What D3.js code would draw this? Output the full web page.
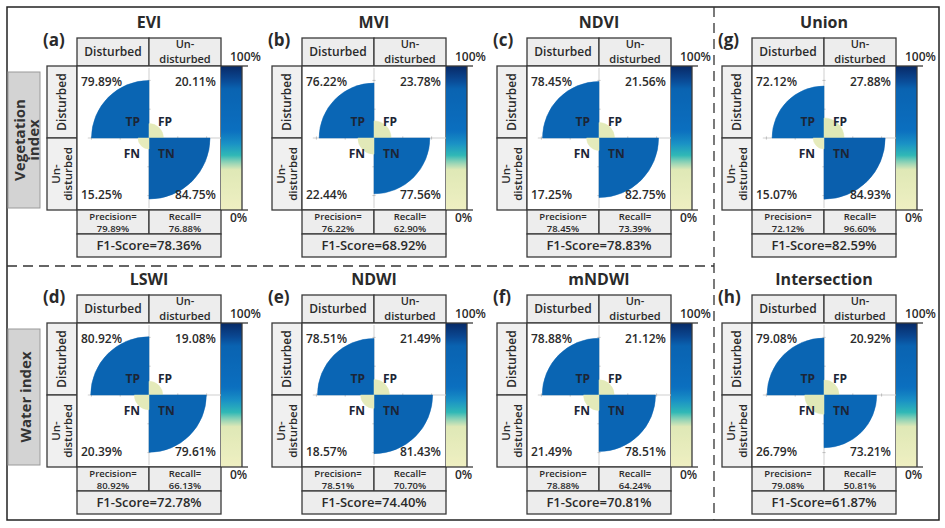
<!DOCTYPE html>
<html>
<head>
<meta charset="utf-8">
<script src="https://cdn.jsdelivr.net/npm/d3@7"></script>
<style>
  html, body { margin: 0; padding: 0; background: #fff; }
  svg text { font-family: "Open Sans", "DejaVu Sans", sans-serif; fill: #2a2a2a; }
</style>
</head>
<body>
<div id="chart"></div>
<script>
// Confusion matrix results per index (values in %)
const names = ['EVI', 'MVI', 'NDVI', 'LSWI', 'NDWI', 'mNDWI', 'Union', 'Intersection'];
const letters = ['(a)', '(b)', '(c)', '(d)', '(e)', '(f)', '(g)', '(h)'];
const tp = [79.89, 76.22, 78.45, 80.92, 78.51, 78.88, 72.12, 79.08];
const fp = [20.11, 23.78, 21.56, 19.08, 21.49, 21.12, 27.88, 20.92];
const fn = [15.25, 22.44, 17.25, 20.39, 18.57, 21.49, 15.07, 26.79];
const tn = [84.75, 77.56, 82.75, 79.61, 81.43, 78.51, 84.93, 73.21];
const precision = [79.89, 76.22, 78.45, 80.92, 78.51, 78.88, 72.12, 79.08];
const recall = [76.88, 62.90, 73.39, 66.13, 70.70, 64.24, 96.60, 50.81];
const f1 = [78.36, 68.92, 78.83, 72.78, 74.40, 70.81, 82.59, 61.87];
const rowLabels = [['Vegetation', 'index'], ['Water index']];

// colour map stops (0-100%)
const cmapStops = [0, 28, 33, 38, 46, 55, 84, 91, 100];
const cmapColors = ['#efefc2', '#dfe8b6', '#92d3b6', '#30b8b6', '#1a92c5', '#0b6fbf', '#0a63b1', '#0a4690', '#082a66'];

const width = 945, height = 528;
const S = 144;            // plot square
const R = S / 2;
const headH = 28, precH = 24, f1H = 23;

const svg = d3.select('#chart').append('svg')
  .attr('width', width)
  .attr('height', height);

const color = d3.scaleLinear().domain(cmapStops).range(cmapColors).clamp(true);
const rScale = d3.scaleLinear().domain([0, 100]).range([0, R]);

// gradient for colour bars
const grad = svg.append('defs').append('linearGradient')
  .attr('id', 'cbar')
  .attr('x1', '0%').attr('y1', '100%')
  .attr('x2', '0%').attr('y2', '0%');
d3.range(0, 101, 2).forEach(v => {
  grad.append('stop').attr('offset', v + '%').attr('stop-color', color(v));
});

// outer frame + separators
svg.append('rect')
  .attr('x', 7).attr('y', 7)
  .attr('width', 932).attr('height', 513)
  .attr('fill', 'none')
  .attr('stroke', '#222')
  .attr('stroke-width', 1.5);

svg.append('line')
  .attr('x1', 7).attr('x2', 714)
  .attr('y1', 266).attr('y2', 266)
  .attr('stroke', '#333').attr('stroke-width', 1.3)
  .attr('stroke-dasharray', '10,6');

svg.append('line')
  .attr('x1', 714).attr('x2', 714)
  .attr('y1', 7).attr('y2', 520)
  .attr('stroke', '#333').attr('stroke-width', 1.3)
  .attr('stroke-dasharray', '10,6');

// row labels on the left
rowLabels.forEach((lines, row) => {
  const top = 72 + row * 257;
  svg.append('rect')
    .attr('x', 8).attr('y', top)
    .attr('width', 32).attr('height', 136)
    .attr('fill', '#d3d3d3')
    .attr('stroke', '#9a9a9a')
    .attr('stroke-width', 1);

  const cy = top + 68;
  const t = svg.append('text')
    .attr('transform', `translate(${lines.length === 1 ? 31 : 25},${cy}) rotate(-90)`)
    .attr('text-anchor', 'middle')
    .attr('font-size', '15px')
    .style('font-weight', 700)
    .style('fill', '#333');
  lines.forEach((l, k) => {
    t.append('tspan').attr('x', 0).attr('dy', k === 0 ? 0 : 14).text(l);
  });
});

const arc = d3.arc().innerRadius(0);
const fmt = v => v.toFixed(2) + '%';

function cell(g, x, y, w, h, fill) {
  g.append('rect')
    .attr('x', x).attr('y', y)
    .attr('width', w).attr('height', h)
    .attr('fill', fill)
    .attr('stroke', '#3a3a3a')
    .attr('stroke-width', 1.3);
}

// two-line label as one text element
function twoLine(g, transform, l1, l2, gap, size) {
  const t = g.append('text')
    .attr('transform', transform)
    .attr('text-anchor', 'middle')
    .attr('font-size', size)
    .style('font-weight', 600);
  t.append('tspan').attr('x', 0).attr('dy', 0).text(l1);
  t.append('tspan').attr('x', 0).attr('dy', gap).text(l2);
  return t;
}

names.forEach((name, i) => {
  const col = i < 6 ? i % 3 : 3;
  const row = i < 6 ? Math.floor(i / 3) : i - 6;
  const x0 = 77 + col * 225;
  const y0 = 38 + row * 257;
  const pTop = y0 + headH;
  const pBot = pTop + S;
  const cx = x0 + R, cy = pTop + R;

  const g = svg.append('g');

  // title + letter
  g.append('text')
    .attr('x', cx).attr('y', y0 - 10)
    .attr('text-anchor', 'middle')
    .attr('font-size', '16px')
    .style('font-weight', 700)
    .text(name);

  g.append('text')
    .attr('x', x0 - 34).attr('y', y0 + 8)
    .attr('font-size', '17px')
    .style('font-weight', 700)
    .text(letters[i]);

  // column header
  cell(g, x0, y0, R, headH, '#ededed');
  cell(g, x0 + R, y0, R, headH, '#ededed');
  g.append('text')
    .attr('x', x0 + R / 2).attr('y', y0 + 18)
    .attr('text-anchor', 'middle')
    .attr('font-size', '12px')
    .style('font-weight', 600)
    .text('Disturbed');
  twoLine(g, `translate(${x0 + R * 1.5},${y0 + 10})`, 'Un-', 'disturbed', 14.6, '11px');

  // row header
  cell(g, x0 - 30, pTop, 30, R, '#f0f0f0');
  cell(g, x0 - 30, cy, 30, R, '#f0f0f0');
  g.append('text')
    .attr('transform', `translate(${x0 - 11},${pTop + R / 2}) rotate(-90)`)
    .attr('text-anchor', 'middle')
    .attr('font-size', '12px')
    .style('font-weight', 600)
    .text('Disturbed');
  twoLine(g, `translate(${x0 - 17},${cy + R / 2}) rotate(-90)`, 'Un-', 'disturbed', 12, '11.5px');

  // plot area
  cell(g, x0, pTop, S, S, '#fff');

  // polar axes (light grey)
  g.append('line')
    .attr('x1', cx - rScale(85)).attr('x2', x0 + S)
    .attr('y1', cy).attr('y2', cy)
    .attr('stroke', '#cfcfcf').attr('stroke-width', 1);
  g.append('line')
    .attr('x1', cx).attr('x2', cx)
    .attr('y1', pTop + 2).attr('y2', pBot - 2)
    .attr('stroke', '#cfcfcf').attr('stroke-width', 1);
  [-80, -40, 40, 80].forEach(t => {
    g.append('line')
      .attr('x1', cx + rScale(t)).attr('x2', cx + rScale(t))
      .attr('y1', cy - 1.5).attr('y2', cy + 1.5)
      .attr('stroke', '#bbb');
    g.append('line')
      .attr('y1', cy + rScale(t)).attr('y2', cy + rScale(t))
      .attr('x1', cx - 1.5).attr('x2', cx + 1.5)
      .attr('stroke', '#bbb');
  });

  // wedges: TP (top-left), FP (top-right), TN (bottom-right), FN (bottom-left)
  const wedges = [
    { v: tp[i], a0: -Math.PI / 2, a1: 0 },
    { v: fp[i], a0: 0, a1: Math.PI / 2 },
    { v: tn[i], a0: Math.PI / 2, a1: Math.PI },
    { v: fn[i], a0: Math.PI, a1: Math.PI * 1.5 }
  ];
  g.selectAll('.wedge')
    .data(wedges)
    .enter()
    .append('path')
    .attr('transform', `translate(${cx},${cy})`)
    .attr('d', d => arc({ outerRadius: rScale(d.v), startAngle: d.a0, endAngle: d.a1 }))
    .attr('fill', d => color(d.v))
    .attr('stroke', d => color(d.v))
    .attr('stroke-width', 0.5);

  // corner percentages
  const pct = [
    { t: fmt(tp[i]), x: x0 + 4, y: pTop + 20, a: 'start' },
    { t: fmt(fp[i]), x: x0 + S - 5, y: pTop + 20, a: 'end' },
    { t: fmt(fn[i]), x: x0 + 4, y: pBot - 11, a: 'start' },
    { t: fmt(tn[i]), x: x0 + S - 5, y: pBot - 11, a: 'end' }
  ];
  pct.forEach(p => {
    g.append('text')
      .attr('x', p.x).attr('y', p.y)
      .attr('text-anchor', p.a)
      .attr('font-size', '12px')
      .style('font-weight', 600)
      .text(p.t);
  });

  // TP / FP / FN / TN labels
  [
    { t: 'TP', x: cx - 9, y: cy - 12, a: 'end' },
    { t: 'FP', x: cx + 9, y: cy - 12, a: 'start' },
    { t: 'FN', x: cx - 9, y: cy + 20, a: 'end' },
    { t: 'TN', x: cx + 9, y: cy + 20, a: 'start' }
  ].forEach(p => {
    g.append('text')
      .attr('x', p.x).attr('y', p.y)
      .attr('text-anchor', p.a)
      .attr('font-size', '12px')
      .style('font-weight', 700)
      .style('fill', '#1c2536')
      .text(p.t);
  });

  // precision / recall
  cell(g, x0, pBot, R, precH, '#ededed');
  cell(g, x0 + R, pBot, R, precH, '#ededed');
  [['Precision=', precision[i], x0 + R / 2], ['Recall=', recall[i], x0 + R * 1.5]].forEach(p => {
    g.append('text')
      .attr('x', p[2]).attr('y', pBot + 10)
      .attr('text-anchor', 'middle')
      .attr('font-size', '9.5px')
      .style('font-weight', 600)
      .text(p[0]);
    g.append('text')
      .attr('x', p[2]).attr('y', pBot + 21.5)
      .attr('text-anchor', 'middle')
      .attr('font-size', '9.5px')
      .style('font-weight', 600)
      .text(fmt(p[1]));
  });

  // F1
  cell(g, x0, pBot + precH, S, f1H, '#ededed');
  g.append('text')
    .attr('x', cx).attr('y', pBot + precH + 16)
    .attr('text-anchor', 'middle')
    .attr('font-size', '13px')
    .style('font-weight', 600)
    .text('F1-Score=' + fmt(f1[i]));

  // colour bar
  const bx = x0 + S;
  g.append('rect')
    .attr('x', bx).attr('y', pTop)
    .attr('width', 21).attr('height', S)
    .attr('fill', 'url(#cbar)');
  g.append('line')
    .attr('x1', bx + 21).attr('x2', bx + 21)
    .attr('y1', pTop).attr('y2', pBot)
    .attr('stroke', '#3a3a3a').attr('stroke-width', 1.3);
  [pTop, pBot].forEach(y => {
    g.append('line')
      .attr('x1', bx).attr('x2', bx + 27)
      .attr('y1', y).attr('y2', y)
      .attr('stroke', '#3a3a3a').attr('stroke-width', 1.3);
  });
  g.append('text')
    .attr('x', bx + 9).attr('y', pTop - 5)
    .attr('font-size', '12px')
    .style('font-weight', 600)
    .text('100%');
  g.append('text')
    .attr('x', bx + 9).attr('y', pBot + 12)
    .attr('font-size', '12px')
    .style('font-weight', 600)
    .text('0%');
});
</script>
</body>
</html>
